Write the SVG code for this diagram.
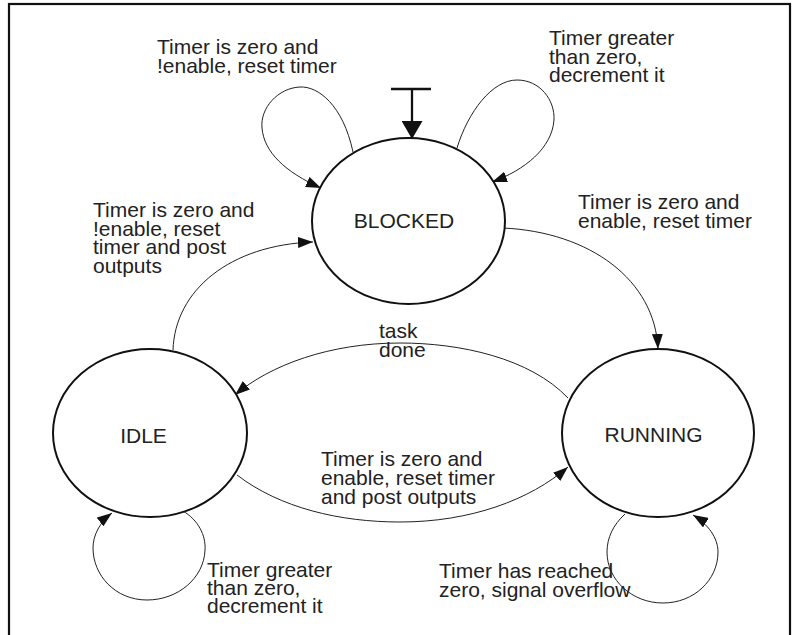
<svg xmlns="http://www.w3.org/2000/svg" width="800" height="635" viewBox="0 0 800 635">
<style>
.frame{fill:none;stroke:#111;stroke-width:2.2}
.state{fill:#fff;stroke:#111;stroke-width:2}
.edge{fill:none;stroke:#222;stroke-width:1}
.lbl{font-family:"Liberation Sans",Arial,sans-serif;font-size:21px;fill:#222}
.name{font-family:"Liberation Sans",Arial,sans-serif;font-size:21px;fill:#222;text-anchor:middle}
</style>
<defs>
<marker id="ah" viewBox="0 0 15 11" refX="15" refY="5.5" markerWidth="15" markerHeight="11" orient="auto" markerUnits="userSpaceOnUse">
<path d="M0,0 L15,5.5 L0,11 z" fill="#111"/>
</marker>
<marker id="ahInit" viewBox="0 0 18 21" refX="18" refY="10.5" markerWidth="18" markerHeight="21" orient="auto" markerUnits="userSpaceOnUse">
<path d="M0,0 L18,10.5 L0,21 z" fill="#111"/>
</marker>
</defs>
<rect class="frame" x="9" y="4" width="781" height="660"/>
<g id="connectors">
<path class="edge" d="M353,152 C343,105 318,86 300,87 C278,88 260,108 262,128 C264,152 285,172 321,188" marker-end="url(#ah)"/>
<path class="edge" d="M457,148 C468,112 492,80 517,80 C540,80 555,100 554,120 C552,148 525,170 492,182" marker-end="url(#ah)"/>
<path class="edge" d="M503,228 C590,232 655,280 658,349" marker-end="url(#ah)"/>
<path class="edge" d="M173,350 C175,290 230,245 313,242" marker-end="url(#ah)"/>
<path class="edge" d="M568,398 C530,358 460,343 400,343 C330,343 270,365 235,395" marker-end="url(#ah)"/>
<path class="edge" d="M237,475 C280,508 340,522 400,522 C470,522 530,500 568,467" marker-end="url(#ah)"/>
<path class="edge" d="M183,511 C198,520 206,535 205,550 C204,578 178,600 147,600 C115,600 93,575 93,548 C93,535 100,522 112,513" marker-end="url(#ah)"/>
<path class="edge" d="M625,514 C613,525 607,538 607,552 C607,580 632,603 663,603 C694,603 718,580 718,552 C718,538 708,524 693,515" marker-end="url(#ah)"/>
<g id="initial">
<line x1="391" y1="89" x2="431" y2="89" stroke="#111" stroke-width="2.3"/>
<line x1="412" y1="89" x2="412" y2="139" stroke="#111" stroke-width="2.3" marker-end="url(#ahInit)"/>
</g>
</g>
<g id="labels">
<text class="lbl" x="157" y="54">Timer is zero and</text>
<text class="lbl" x="157" y="73">!enable, reset timer</text>
<text class="lbl" x="549" y="45">Timer greater</text>
<text class="lbl" x="549" y="63.5">than zero,</text>
<text class="lbl" x="549" y="82">decrement it</text>
<text class="lbl" x="578" y="209">Timer is zero and</text>
<text class="lbl" x="578" y="227.5">enable, reset timer</text>
<text class="lbl" x="93" y="217">Timer is zero and</text>
<text class="lbl" x="93" y="235.5">!enable, reset</text>
<text class="lbl" x="93" y="254">timer and post</text>
<text class="lbl" x="93" y="272.5">outputs</text>
<text class="lbl" x="379" y="337.5">task</text>
<text class="lbl" x="379" y="356.5">done</text>
<text class="lbl" x="321" y="466">Timer is zero and</text>
<text class="lbl" x="321" y="485">enable, reset timer</text>
<text class="lbl" x="321" y="504">and post outputs</text>
<text class="lbl" x="207" y="577">Timer greater</text>
<text class="lbl" x="207" y="595">than zero,</text>
<text class="lbl" x="207" y="613">decrement it</text>
<text class="lbl" x="439" y="578">Timer has reached</text>
<text class="lbl" x="439" y="597">zero, signal overflow</text>
</g>
<g id="BLOCKED">
<ellipse class="state" cx="408.5" cy="221" rx="96.5" ry="83"/>
<text class="name" x="404" y="228">BLOCKED</text>
</g>
<g id="IDLE">
<ellipse class="state" cx="150" cy="433" rx="97" ry="84"/>
<text class="name" x="143.5" y="443">IDLE</text>
</g>
<g id="RUNNING">
<ellipse class="state" cx="658" cy="433" rx="96" ry="84"/>
<text class="name" x="653.5" y="442">RUNNING</text>
</g>
</svg>
